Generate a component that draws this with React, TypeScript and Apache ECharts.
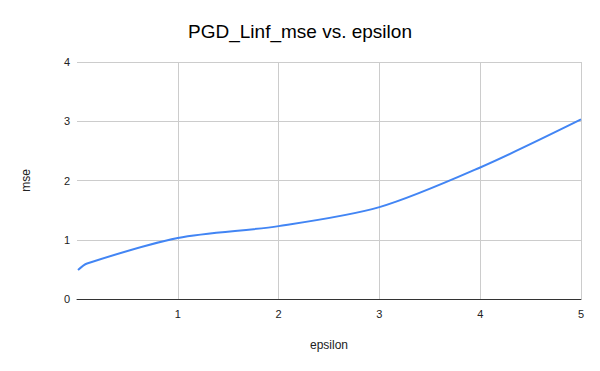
import React, { useEffect, useRef } from "react";
import * as echarts from "echarts";

const epsilon = [0.01, 0.1, 1, 2, 3, 4, 5];
const mse = [0.49, 0.6, 1.03, 1.23, 1.55, 2.22, 3.03];
const titleText = "PGD_Linf_mse vs. epsilon";
const xName = "epsilon";
const yName = "mse";

export default function App() {
  const ref = useRef<HTMLDivElement>(null);
  useEffect(() => {
    if (!ref.current) return;
    const chart = echarts.init(ref.current, null, { renderer: "svg" });
    const font = "'Liberation Sans', Arial, sans-serif";
    chart.setOption({
      animation: false,
      backgroundColor: "#ffffff",
      title: {
        text: titleText,
        left: "center",
        top: 17,
        textStyle: { fontSize: 19, fontWeight: "normal", color: "#000", fontFamily: font },
      },
      grid: { left: 77, right: 19, top: 62, bottom: 72, containLabel: false },
      xAxis: {
        type: "value",
        min: 0,
        max: 5,
        interval: 1,
        name: xName,
        nameLocation: "middle",
        nameGap: 40,
        nameTextStyle: { fontSize: 12, color: "#222", fontFamily: font },
        axisLine: { show: true, onZero: false, lineStyle: { color: "#333", width: 1 } },
        axisTick: { show: false },
        axisLabel: {
          color: "#222",
          fontSize: 11,
          fontFamily: font,
          margin: 9,
          formatter: (v: number) => (v === 0 ? "" : String(v)),
        },
        splitLine: { show: true, showMinLine: false, lineStyle: { color: "#cccccc", width: 1 } },
      },
      yAxis: {
        type: "value",
        min: 0,
        max: 4,
        interval: 1,
        name: yName,
        nameLocation: "middle",
        nameGap: 45,
        nameRotate: 90,
        nameTextStyle: { fontSize: 12, color: "#222", fontFamily: font },
        axisLine: { show: false },
        axisTick: { show: false },
        axisLabel: { color: "#222", fontSize: 11, fontFamily: font, margin: 7 },
        splitLine: { show: true, lineStyle: { color: "#cccccc", width: 1 } },
      },
      series: [
        {
          type: "line",
          data: epsilon.map((x, i) => [x, mse[i]]),
          smooth: 0.3,
          showSymbol: false,
          lineStyle: { color: "#4285f4", width: 2 },
          itemStyle: { color: "#4285f4" },
        },
      ],
    });
    return () => chart.dispose();
  }, []);
  return <div ref={ref} style={{ width: 600, height: 371, position: "absolute", left: 0, top: 0 }} />;
}
